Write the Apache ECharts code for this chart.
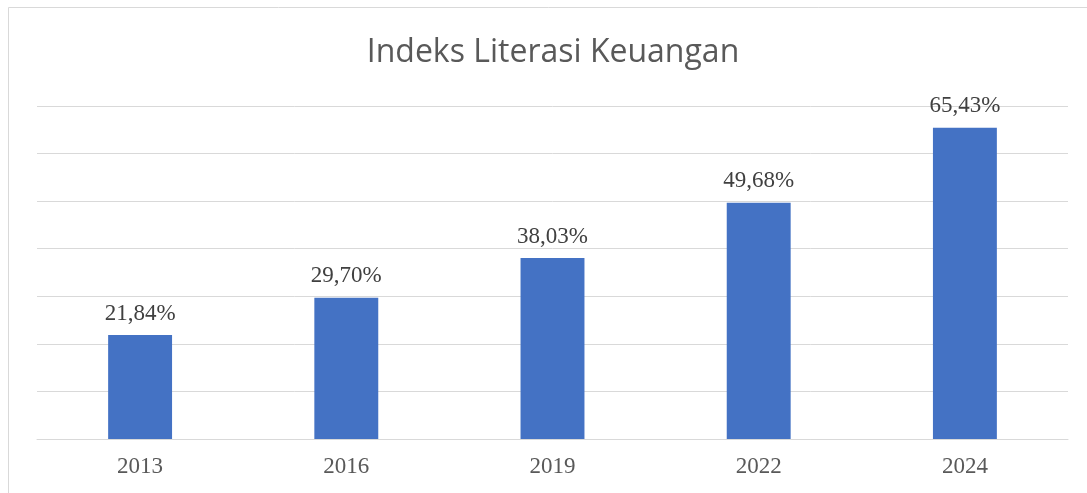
<!DOCTYPE html>
<html>
<head>
<meta charset="utf-8">
<script src="https://cdn.jsdelivr.net/npm/echarts@6/dist/echarts.min.js"></script>
<style>
html,body{margin:0;padding:0;background:#fff;}
#c{width:1087px;height:493px;}
</style>
</head>
<body>
<div id="c"></div>
<script>
const titleText = "Indeks Literasi Keuangan";
const categories = ["2013", "2016", "2019", "2022", "2024"];
const values = [21.84, 29.70, 38.03, 49.68, 65.43];
const yMin = 0, yMax = 70, yInterval = 10;

const chart = echarts.init(document.getElementById('c'));
chart.setOption({
  backgroundColor: '#ffffff',
  animation: false,
  title: {
    text: titleText,
    left: 548, textAlign: 'center',
    top: 32,
    textStyle: { fontFamily: 'Open Sans', fontWeight: 'normal', fontSize: 32, color: '#595959' }
  },
  graphic: [{
    type: 'rect', silent: true,
    shape: { x: 8.5, y: 7.5, width: 1200, height: 700 },
    style: { fill: 'none', stroke: '#d9d9d9', lineWidth: 1 }
  }],
  grid: { left: 37, right: 19, top: 106, bottom: 54 },
  xAxis: {
    type: 'category', data: categories,
    axisLine: { lineStyle: { color: '#d9d9d9', width: 1 } },
    axisTick: { show: false },
    axisLabel: { fontFamily: 'Liberation Serif', fontSize: 23, color: '#595959', margin: 16 }
  },
  yAxis: {
    type: 'value', min: yMin, max: yMax, interval: yInterval,
    axisLine: { show: false }, axisTick: { show: false },
    axisLabel: { show: false },
    splitLine: { lineStyle: { color: '#d9d9d9', width: 1 } }
  },
  series: [{
    type: 'bar', data: values, barWidth: '31%',
    itemStyle: { color: '#4472c4' },
    label: {
      show: true, position: 'top', distance: 10,
      fontFamily: 'Liberation Serif', fontSize: 23, color: '#404040',
      formatter: p => p.value.toFixed(2).replace('.', ',') + '%'
    }
  }]
});
</script>
</body>
</html>
